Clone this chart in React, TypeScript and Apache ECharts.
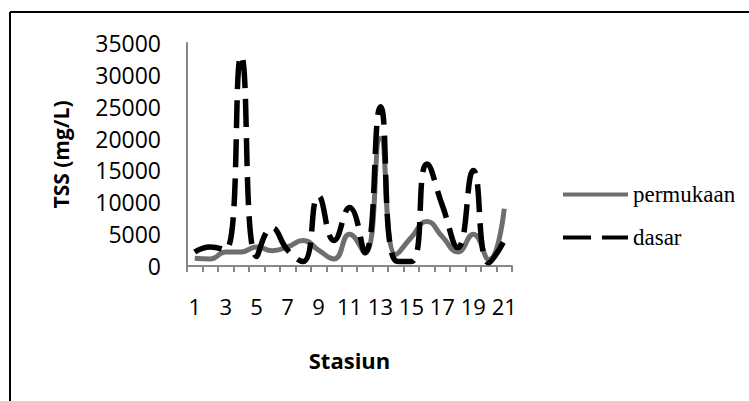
import React, { useEffect, useRef } from "react";
import * as echarts from "echarts";

const categories = ["1","2","3","4","5","6","7","8","9","10","11","12","13","14","15","16","17","18","19","20","21"];
const permukaan = [1200, 1100, 2200, 2200, 3000, 2400, 3000, 4000, 2500, 1100, 5000, 2000, 20000, 1800, 4500, 7000, 4600, 2200, 5000, 1000, 9000];
const dasar = [2200, 3000, 2500, 33000, 1500, 6000, 2500, 700, 11000, 4000, 9200, 2100, 25000, 800, 700, 16000, 9500, 2900, 15000, 500, 4000];
const seriesNames = ["permukaan", "dasar"];
const yTitle = "TSS (mg/L)";
const xTitle = "Stasiun";

export default function App() {
  const ref = useRef<HTMLDivElement>(null);
  useEffect(() => {
    if (!ref.current) return;
    const chart = echarts.init(ref.current, undefined, { renderer: "svg" });
    const sans = "'Open Sans', 'Noto Sans', sans-serif";
    chart.setOption({
      animation: false,
      backgroundColor: "#ffffff",
      grid: { left: 187, top: 43, width: 325, height: 223, containLabel: false },
      legend: {
        orient: "vertical",
        left: 556,
        top: 178,
        itemWidth: 65,
        itemHeight: 22,
        itemGap: 20,
        itemStyle: { opacity: 0 },
        textStyle: { fontFamily: "'Liberation Serif', 'DejaVu Serif', serif", fontSize: 23, color: "#000", lineHeight: 22, padding: [0, 0, 0, 0] },
        data: [
          { name: seriesNames[0], lineStyle: { color: "#6e6e6e", width: 4, type: "solid" } },
          { name: seriesNames[1], lineStyle: { color: "#000000", width: 4, type: [28, 11] } },
        ],
      },
      xAxis: {
        type: "category",
        data: categories,
        boundaryGap: true,
        name: xTitle,
        nameLocation: "middle",
        nameGap: 83,
        nameTextStyle: { fontFamily: sans, fontSize: 22, fontWeight: "bold", color: "#000" },
        axisLine: { show: true, lineStyle: { color: "#868686", width: 2 } },
        axisTick: { show: true, interval: 0, length: 6, lineStyle: { color: "#868686", width: 2 } },
        axisLabel: { interval: 1, margin: 29, fontFamily: sans, fontSize: 22, color: "#000" },
        splitLine: { show: false },
      },
      yAxis: {
        type: "value",
        min: 0,
        max: 35000,
        interval: 5000,
        name: yTitle,
        nameLocation: "middle",
        nameRotate: 90,
        nameGap: 116,
        nameTextStyle: { fontFamily: sans, fontSize: 21, fontWeight: "bold", color: "#000" },
        axisLine: { show: true, lineStyle: { color: "#868686", width: 2 } },
        axisTick: { show: false },
        axisLabel: { margin: 26, fontFamily: sans, fontSize: 23, color: "#000", formatter: (v: number) => String(v) },
        splitLine: { show: false },
      },
      series: [
        {
          name: seriesNames[0],
          type: "line",
          data: permukaan,
          smooth: true,
          symbol: "none",
          lineStyle: { color: "#6e6e6e", width: 5 },
          itemStyle: { color: "#6e6e6e" },
          z: 2,
        },
        {
          name: seriesNames[1],
          type: "line",
          data: dasar,
          smooth: true,
          symbol: "none",
          lineStyle: { color: "#000000", width: 5.5, type: [28, 11] },
          itemStyle: { color: "#000000" },
          z: 3,
        },
      ],
      graphic: [
        { type: "line", shape: { x1: 10, y1: 12, x2: 749, y2: 12 }, style: { stroke: "#000", lineWidth: 2 } },
        { type: "line", shape: { x1: 10, y1: 12, x2: 10, y2: 401 }, style: { stroke: "#000", lineWidth: 2 } },
      ],
    });
    return () => chart.dispose();
  }, []);
  return <div ref={ref} style={{ position: "absolute", left: 0, top: 0, width: 749, height: 401 }} />;
}
